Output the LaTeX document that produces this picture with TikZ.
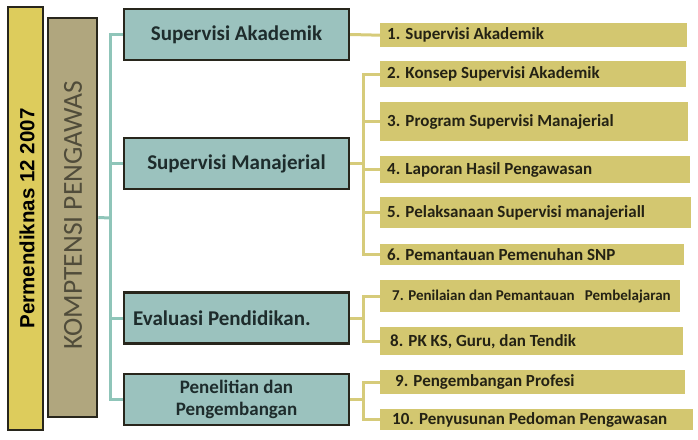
\documentclass[tikz,border=0pt]{standalone}
\usepackage{fontspec}
\newfontfamily\carl{Carlito}
\newfontfamily\libs{Liberation Sans}
\definecolor{permy}{RGB}{221,204,92}
\definecolor{khaki}{RGB}{176,166,126}
\definecolor{tealf}{RGB}{155,194,190}
\definecolor{teall}{RGB}{143,197,185}
\definecolor{itemy}{RGB}{211,199,112}
\definecolor{linky}{RGB}{214,203,122}
\definecolor{bord}{RGB}{40,38,28}
\definecolor{ktext}{RGB}{80,76,58}
\definecolor{ttext}{RGB}{30,44,44}
\definecolor{itext}{RGB}{36,34,20}
\tikzset{
  permbox/.style={draw=bord, line width=2.6pt, fill=permy, inner sep=0pt},
  kompbox/.style={draw=bord, line width=2.6pt, fill=khaki, inner sep=0pt},
  tbox/.style={draw=bord, line width=2.4pt, fill=tealf, inner sep=0pt,
    minimum width=225pt, minimum height=51pt, font=\carl\bfseries\fontsize{21}{23}\selectfont, text=ttext},
  ttxt/.style={inner sep=0pt, font=\carl\bfseries\fontsize{21}{23}\selectfont, text=ttext},
  ibox/.style={fill=itemy, inner sep=0pt, anchor=north west},
  itxt/.style={anchor=west, inner sep=0pt, font=\carl\bfseries\fontsize{17}{19}\selectfont, text=itext},
  tline/.style={draw=teall, line width=3pt},
  yline/.style={draw=linky, line width=3pt},
}
\newcommand{\itm}[6]{%
  \node[ibox, minimum width={#4-380}, minimum height={#3-#2}] (#1) at (380,#2) {};
  \node[itxt] (#1t) at ([xshift=#5]#1.west) {#6};}
\begin{document}
\begin{tikzpicture}[x=1pt,y=-1pt]
\useasboundingbox (0,0) rectangle (698,439);
% left columns
\node[permbox, minimum width=35pt, minimum height=423pt] (perm) at (25.5,218.5) {};
\node[rotate=90, text=black, inner sep=0pt, font=\libs\bfseries\fontsize{20.5}{23}\selectfont] (permt) at (27,218.5) {Permendiknas 12 2007};
\node[kompbox, minimum width=49pt, minimum height=399pt] (komp) at (72.5,217.5) {};
\node[rotate=90, text=ktext, inner sep=0pt, font=\carl\fontsize{27.5}{30}\selectfont] (kompt) at (73,215) {KOMPTENSI PENGAWAS};
% teal boxes
\node[tbox] (sa) at (236.5,34.5) {Supervisi Akademik};
\node[tbox] (sm) at (236.5,163.5) {Supervisi Manajerial};
\node[tbox] (ev) at (236.5,318) {};
\node[ttxt, anchor=west] (evt) at (133,318) {Evaluasi Pendidikan.};
\node[tbox, align=center, font=\carl\bfseries\fontsize{19}{22}\selectfont] (pp) at (236.5,399.5) {Penelitian dan\\Pengembangan};
% teal connectors
\draw[tline] (komp.east) -- (110,218) coordinate (jt);
\draw[tline] (jt) |- (sa.west);
\draw[tline] (jt) |- (sm.west);
\draw[tline] (jt) |- (ev.west);
\draw[tline] (jt) |- (pp.west);
% items
\itm{i1}{23}{47}{687}{7pt}{1. Supervisi Akademik}
\itm{i2}{61}{87}{686}{7pt}{2. Konsep Supervisi Akademik}
\itm{i3}{102}{141}{688}{7pt}{3. Program Supervisi Manajerial}
\itm{i4}{156}{183}{690}{7pt}{4. Laporan Hasil Pengawasan}
\itm{i5}{197}{228}{691}{7pt}{5. Pelaksanaan Supervisi manajeriall}
\itm{i6}{244}{265}{684}{7pt}{6. Pemantauan Pemenuhan SNP}
\itm{i7}{280}{312}{680}{12pt}{\fontsize{15}{18}\selectfont 7. Penilaian dan Pemantauan \ \ Pembelajaran}
\itm{i8}{327}{355}{683}{10pt}{8. PK KS, Guru, dan Tendik}
\itm{i9}{370}{394}{685}{15pt}{9. Pengembangan Profesi}
\itm{i10}{409}{430}{693}{12pt}{10. Penyusunan Pedoman Pengawasan}
% yellow connectors
\draw[yline] (sa.east) -- (i1.west);
\draw[yline] (sm.east) -- (363,163.5) coordinate (jm);
\foreach \k in {i2,i3,i4,i5,i6} \draw[yline] (jm) |- (\k.west);
\draw[yline] (ev.east) -- (363,318) coordinate (je);
\foreach \k in {i7,i8} \draw[yline] (je) |- (\k.west);
\draw[yline] (pp.east) -- (363,399.5) coordinate (jp);
\foreach \k in {i9,i10} \draw[yline] (jp) |- (\k.west);
\end{tikzpicture}
\end{document}
